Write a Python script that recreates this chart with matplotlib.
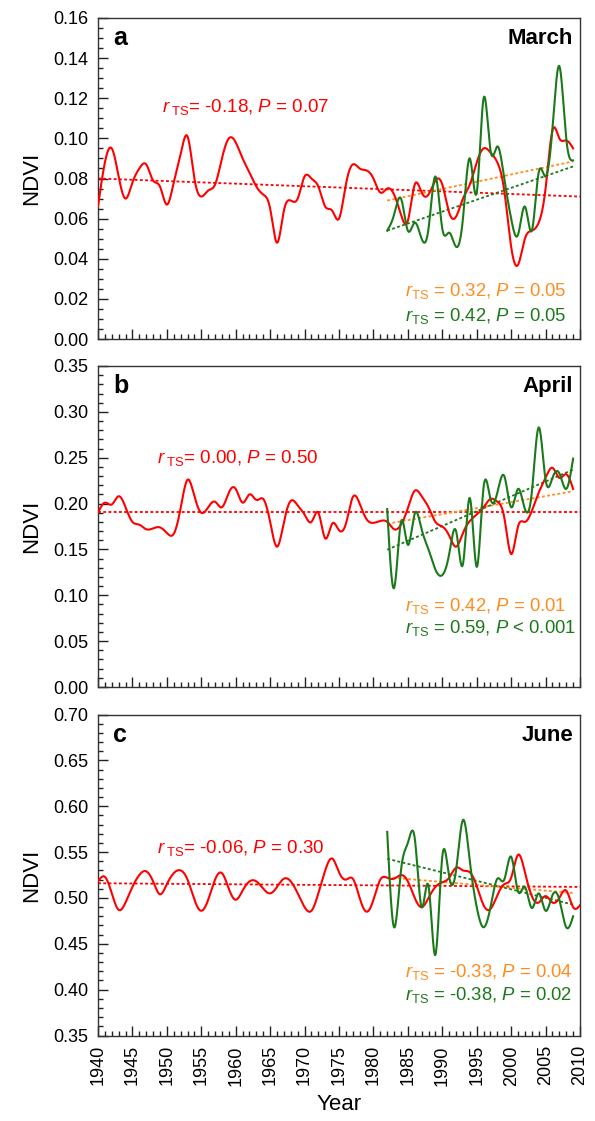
import numpy as np
import matplotlib
matplotlib.use("Agg")
import matplotlib.pyplot as plt
from matplotlib.ticker import MultipleLocator, FormatStrFormatter

plt.rcParams['font.family'] = ['Liberation Sans', 'DejaVu Sans']
plt.rcParams['mathtext.fontset'] = 'custom'
plt.rcParams['mathtext.rm'] = 'Liberation Sans'
plt.rcParams['mathtext.it'] = 'Liberation Sans:italic'
plt.rcParams['mathtext.bf'] = 'Liberation Sans:bold'

# ---------------- data ----------------
years_long = np.arange(1940, 2010)      # 1940-2009
years_long_june = np.arange(1940, 2011) # 1940-2010
years_short = np.arange(1982, 2010)     # 1982-2009

march_red = [0.066, 0.088, 0.095, 0.081, 0.070, 0.078, 0.085, 0.087, 0.079, 0.076,
             0.067, 0.078, 0.092, 0.101, 0.080, 0.071, 0.074, 0.077, 0.090, 0.100,
             0.098, 0.090, 0.083, 0.076, 0.072, 0.065, 0.048, 0.064, 0.069, 0.070,
             0.081, 0.080, 0.076, 0.066, 0.064, 0.060, 0.077, 0.087, 0.085, 0.084,
             0.080, 0.073, 0.075, 0.072, 0.062, 0.059, 0.077, 0.073, 0.072, 0.079,
             0.077, 0.063, 0.061, 0.070, 0.077, 0.088, 0.095, 0.093, 0.088, 0.074,
             0.046, 0.037, 0.050, 0.054, 0.058, 0.075, 0.104, 0.100, 0.099, 0.095]
march_green = [0.054, 0.062, 0.070, 0.054, 0.058, 0.050, 0.055, 0.081, 0.055, 0.053,
               0.046, 0.060, 0.090, 0.073, 0.120, 0.094, 0.096, 0.080, 0.060, 0.052,
               0.066, 0.054, 0.083, 0.081, 0.105, 0.136, 0.100, 0.089]

april_red = [0.190, 0.201, 0.199, 0.208, 0.196, 0.180, 0.177, 0.172, 0.173, 0.174,
             0.168, 0.167, 0.195, 0.226, 0.208, 0.190, 0.196, 0.202, 0.196, 0.212,
             0.216, 0.201, 0.210, 0.204, 0.205, 0.180, 0.153, 0.180, 0.203, 0.198,
             0.188, 0.180, 0.190, 0.162, 0.178, 0.171, 0.178, 0.207, 0.200, 0.183,
             0.179, 0.181, 0.180, 0.172, 0.177, 0.195, 0.214, 0.208, 0.196, 0.180,
             0.175, 0.165, 0.153, 0.168, 0.181, 0.188, 0.196, 0.205, 0.202, 0.185,
             0.145, 0.175, 0.180, 0.192, 0.212, 0.228, 0.239, 0.228, 0.232, 0.216]
april_green = [0.194, 0.108, 0.180, 0.155, 0.189, 0.172, 0.150, 0.128, 0.122, 0.145,
               0.170, 0.134, 0.206, 0.131, 0.218, 0.205, 0.212, 0.230, 0.196, 0.216,
               0.194, 0.212, 0.283, 0.226, 0.228, 0.233, 0.216, 0.249]

june_red = [0.518, 0.523, 0.505, 0.487, 0.495, 0.512, 0.525, 0.529, 0.518, 0.504,
            0.515, 0.527, 0.530, 0.520, 0.498, 0.486, 0.498, 0.520, 0.527, 0.510,
            0.498, 0.508, 0.518, 0.518, 0.510, 0.505, 0.512, 0.521, 0.518, 0.505,
            0.490, 0.486, 0.505, 0.530, 0.543, 0.528, 0.520, 0.521, 0.500, 0.485,
            0.498, 0.520, 0.522, 0.521, 0.525, 0.518, 0.500, 0.490, 0.500, 0.512,
            0.517, 0.522, 0.533, 0.530, 0.528, 0.513, 0.492, 0.488, 0.503, 0.515,
            0.522, 0.547, 0.528, 0.502, 0.495, 0.502, 0.495, 0.500, 0.508, 0.490,
            0.492]
june_green = [0.572, 0.468, 0.530, 0.560, 0.565, 0.490, 0.513, 0.438, 0.545, 0.523,
              0.530, 0.585, 0.540, 0.490, 0.468, 0.490, 0.521, 0.520, 0.545, 0.507,
              0.512, 0.489, 0.505, 0.486, 0.503, 0.498, 0.468, 0.480]

# trend lines (start/end years and values)
trend_red_years = [1940, 2010]
trend_short_years = [1982, 2009]
march_trend_red = [0.080, 0.071]
march_trend_orange = [0.069, 0.0885]
march_trend_green = [0.054, 0.086]
april_trend_red = [0.191, 0.191]
april_trend_orange = [0.178, 0.2134]
april_trend_green = [0.1497, 0.237]
june_trend_red = [0.516, 0.512]
june_trend_orange = [0.5225, 0.5054]
june_trend_green = [0.5427, 0.4927]

month_names = ["March", "April", "June"]
panel_letters = ["a", "b", "c"]
red_labels = [r"$r_{\;\mathrm{TS}}$= -0.18, $P$ = 0.07",
              r"$r_{\;\mathrm{TS}}$= 0.00, $P$ = 0.50",
              r"$r_{\;\mathrm{TS}}$= -0.06, $P$ = 0.30"]
orange_labels = [r"$r_{\mathrm{TS}}$ = 0.32, $P$ = 0.05",
                 r"$r_{\mathrm{TS}}$ = 0.42, $P$ = 0.01",
                 r"$r_{\mathrm{TS}}$ = -0.33, $P$ = 0.04"]
green_labels = [r"$r_{\mathrm{TS}}$ = 0.42, $P$ = 0.05",
                r"$r_{\mathrm{TS}}$ = 0.59, $P$ < 0.001",
                r"$r_{\mathrm{TS}}$ = -0.38, $P$ = 0.02"]
ylims = [(0.0, 0.16), (0.0, 0.35), (0.35, 0.70)]
ymajor = [0.02, 0.05, 0.05]
yminor = [0.005, 0.01, 0.01]

RED = '#ff0000'
GREEN = '#1a7a1a'
ORANGE = '#ff8c1e'


def natural_spline(x, y, xs):
    x = np.asarray(x, float)
    y = np.asarray(y, float)
    n = len(x)
    h = np.diff(x)
    A = np.zeros((n, n))
    b = np.zeros(n)
    A[0, 0] = 1.0
    A[-1, -1] = 1.0
    for i in range(1, n - 1):
        A[i, i - 1] = h[i - 1]
        A[i, i] = 2 * (h[i - 1] + h[i])
        A[i, i + 1] = h[i]
        b[i] = 3 * ((y[i + 1] - y[i]) / h[i] - (y[i] - y[i - 1]) / h[i - 1])
    c = np.linalg.solve(A, b)
    bc = (y[1:] - y[:-1]) / h - h * (2 * c[:-1] + c[1:]) / 3
    d = (c[1:] - c[:-1]) / (3 * h)
    idx = np.clip(np.searchsorted(x, xs) - 1, 0, n - 2)
    dx = xs - x[idx]
    return y[idx] + bc[idx] * dx + c[idx] * dx ** 2 + d[idx] * dx ** 3


def smooth(x, y):
    xs = np.linspace(x[0], x[-1], 1500)
    return xs, natural_spline(x, y, xs)


fig = plt.figure(figsize=(5.95, 11.21), dpi=100)
left, width, height = 98 / 595, 482 / 595, 321 / 1121
bottoms = [1 - 339 / 1121, 1 - 687 / 1121, 1 - 1035.5 / 1121]

reds = [(years_long, march_red), (years_long, april_red), (years_long_june, june_red)]
greens = [march_green, april_green, june_green]
trends = [(march_trend_red, march_trend_orange, march_trend_green),
          (april_trend_red, april_trend_orange, april_trend_green),
          (june_trend_red, june_trend_orange, june_trend_green)]
red_pos = [(0.132, 0.708), (0.122, 0.698), (0.122, 0.570)]
og_pos = [(0.637, 0.1335, 0.057), (0.637, 0.236, 0.168), (0.637, 0.181, 0.110)]

dot = (0, (1.6, 1.3))
for i in range(3):
    ax = fig.add_axes([left, bottoms[i], width, height])
    tr, to, tg = trends[i]
    ax.plot(trend_red_years, tr, color=RED, lw=1.3, ls=dot, zorder=2)
    ax.plot(trend_short_years, to, color=ORANGE, lw=1.3, ls=dot, zorder=2)
    ax.plot(trend_short_years, tg, color=GREEN, lw=1.3, ls=dot, zorder=2)
    xr, yr = reds[i]
    xs, ys = smooth(xr, yr)
    ax.plot(xs, ys, color=RED, lw=1.5, zorder=3)
    xs, ys = smooth(years_short, greens[i])
    ax.plot(xs, ys, color=GREEN, lw=1.5, zorder=4)

    ax.set_xlim(1940, 2010)
    ax.set_ylim(*ylims[i])
    ax.xaxis.set_major_locator(MultipleLocator(5))
    ax.xaxis.set_minor_locator(MultipleLocator(1))
    ax.yaxis.set_major_locator(MultipleLocator(ymajor[i]))
    ax.yaxis.set_minor_locator(MultipleLocator(yminor[i]))
    ax.yaxis.set_major_formatter(FormatStrFormatter('%.2f'))
    ax.tick_params(which='both', direction='in', top=False, right=False,
                   color='#222222', width=1.0)
    ax.tick_params(which='major', length=7.5, labelsize=13, pad=7)
    ax.tick_params(which='minor', length=3.8)
    for sp in ax.spines.values():
        sp.set_linewidth(1.0)
        sp.set_color('#333333')
    ax.set_ylabel('NDVI', fontsize=16, labelpad=8)
    if i < 2:
        ax.tick_params(axis='x', labelbottom=False)
    else:
        plt.setp(ax.get_xticklabels(), rotation=90)
        ax.set_xlabel('Year', fontsize=16, labelpad=6)

    ax.text(0.031, 0.915, panel_letters[i], transform=ax.transAxes,
            fontsize=18, fontweight='bold', va='baseline', ha='left')
    ax.text(0.986, 0.918, month_names[i], transform=ax.transAxes,
            fontsize=16, fontweight='bold', va='baseline', ha='right')
    ax.text(red_pos[i][0], red_pos[i][1], red_labels[i], transform=ax.transAxes,
            fontsize=13.5, color=RED, va='baseline', ha='left')
    ax.text(og_pos[i][0], og_pos[i][1], orange_labels[i], transform=ax.transAxes,
            fontsize=13.3, color=ORANGE, va='baseline', ha='left')
    ax.text(og_pos[i][0], og_pos[i][2], green_labels[i], transform=ax.transAxes,
            fontsize=13.3, color=GREEN, va='baseline', ha='left')

fig.savefig('out.png', dpi=100)
